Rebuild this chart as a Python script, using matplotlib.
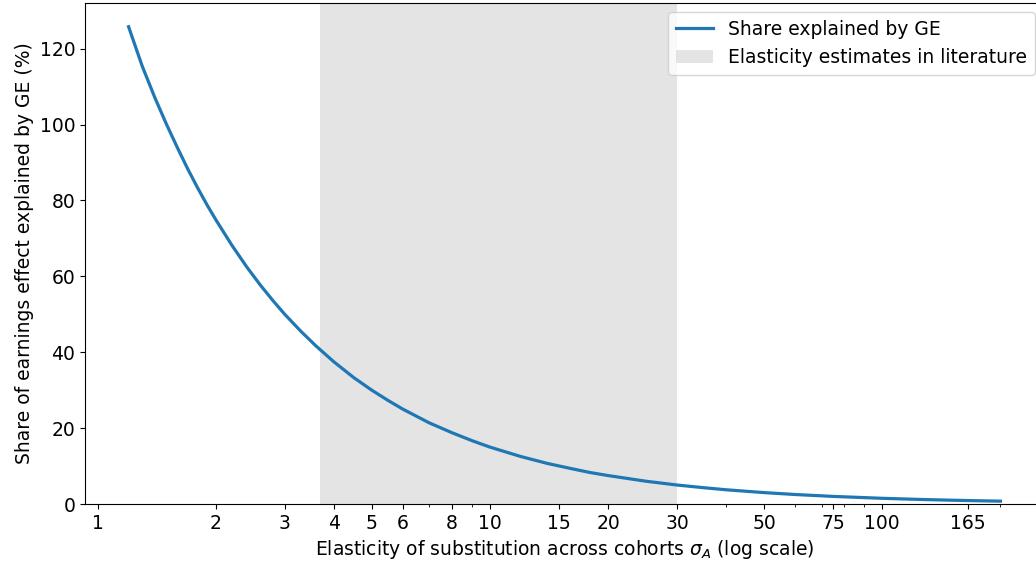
import matplotlib.pyplot as plt
import numpy as np

# values
sigma = [1.2, 1.3, 1.4, 1.5, 1.6, 1.7, 1.8, 1.9, 2, 2.2, 2.4, 2.6, 2.8, 3,
         3.3, 3.6, 4, 4.5, 5, 5.5, 6, 7, 8, 9, 10, 12, 14, 16, 18, 20, 25,
         30, 35, 40, 50, 60, 75, 100, 125, 150, 175, 200]
share = [125.8, 115.4, 107.1, 100.0, 93.8, 88.2, 83.3, 78.9, 75.0, 68.2,
         62.5, 57.7, 53.6, 50.0, 45.5, 41.7, 37.5, 33.3, 30.0, 27.3, 25.0,
         21.4, 18.8, 16.7, 15.0, 12.5, 10.7, 9.4, 8.3, 7.5, 6.0, 5.0, 4.3,
         3.75, 3.0, 2.5, 2.0, 1.5, 1.2, 1.0, 0.86, 0.75]
lit_range = (3.7, 30)
xtick_vals = [1, 2, 3, 4, 5, 6, 8, 10, 15, 20, 30, 50, 75, 100, 165]


def main():
    plt.rcParams['font.size'] = 13.5
    fig = plt.figure(figsize=(10.36, 5.65), dpi=100)
    ax = fig.add_axes([85 / 1036, 1 - 504 / 565, (1044 - 85) / 1036, (504 - 3) / 565])

    ax.axvspan(lit_range[0], lit_range[1], color='lightgray', alpha=0.6, lw=0,
               label='Elasticity estimates in literature')
    ax.plot(sigma, share, color='tab:blue', lw=2.3, label='Share explained by GE')

    ax.set_xscale('log')
    ax.set_xticks(xtick_vals)
    ax.set_xticklabels([str(v) for v in xtick_vals])
    ax.set_ylim(bottom=0)
    ax.set_xlabel(r'Elasticity of substitution across cohorts $\sigma_A$ (log scale)')
    ax.set_ylabel('Share of earnings effect explained by GE (%)')

    h, l = ax.get_legend_handles_labels()
    ax.legend(h[::-1], l[::-1], loc='upper right')

    fig.savefig('out.png', dpi=100)


if __name__ == '__main__':
    main()
